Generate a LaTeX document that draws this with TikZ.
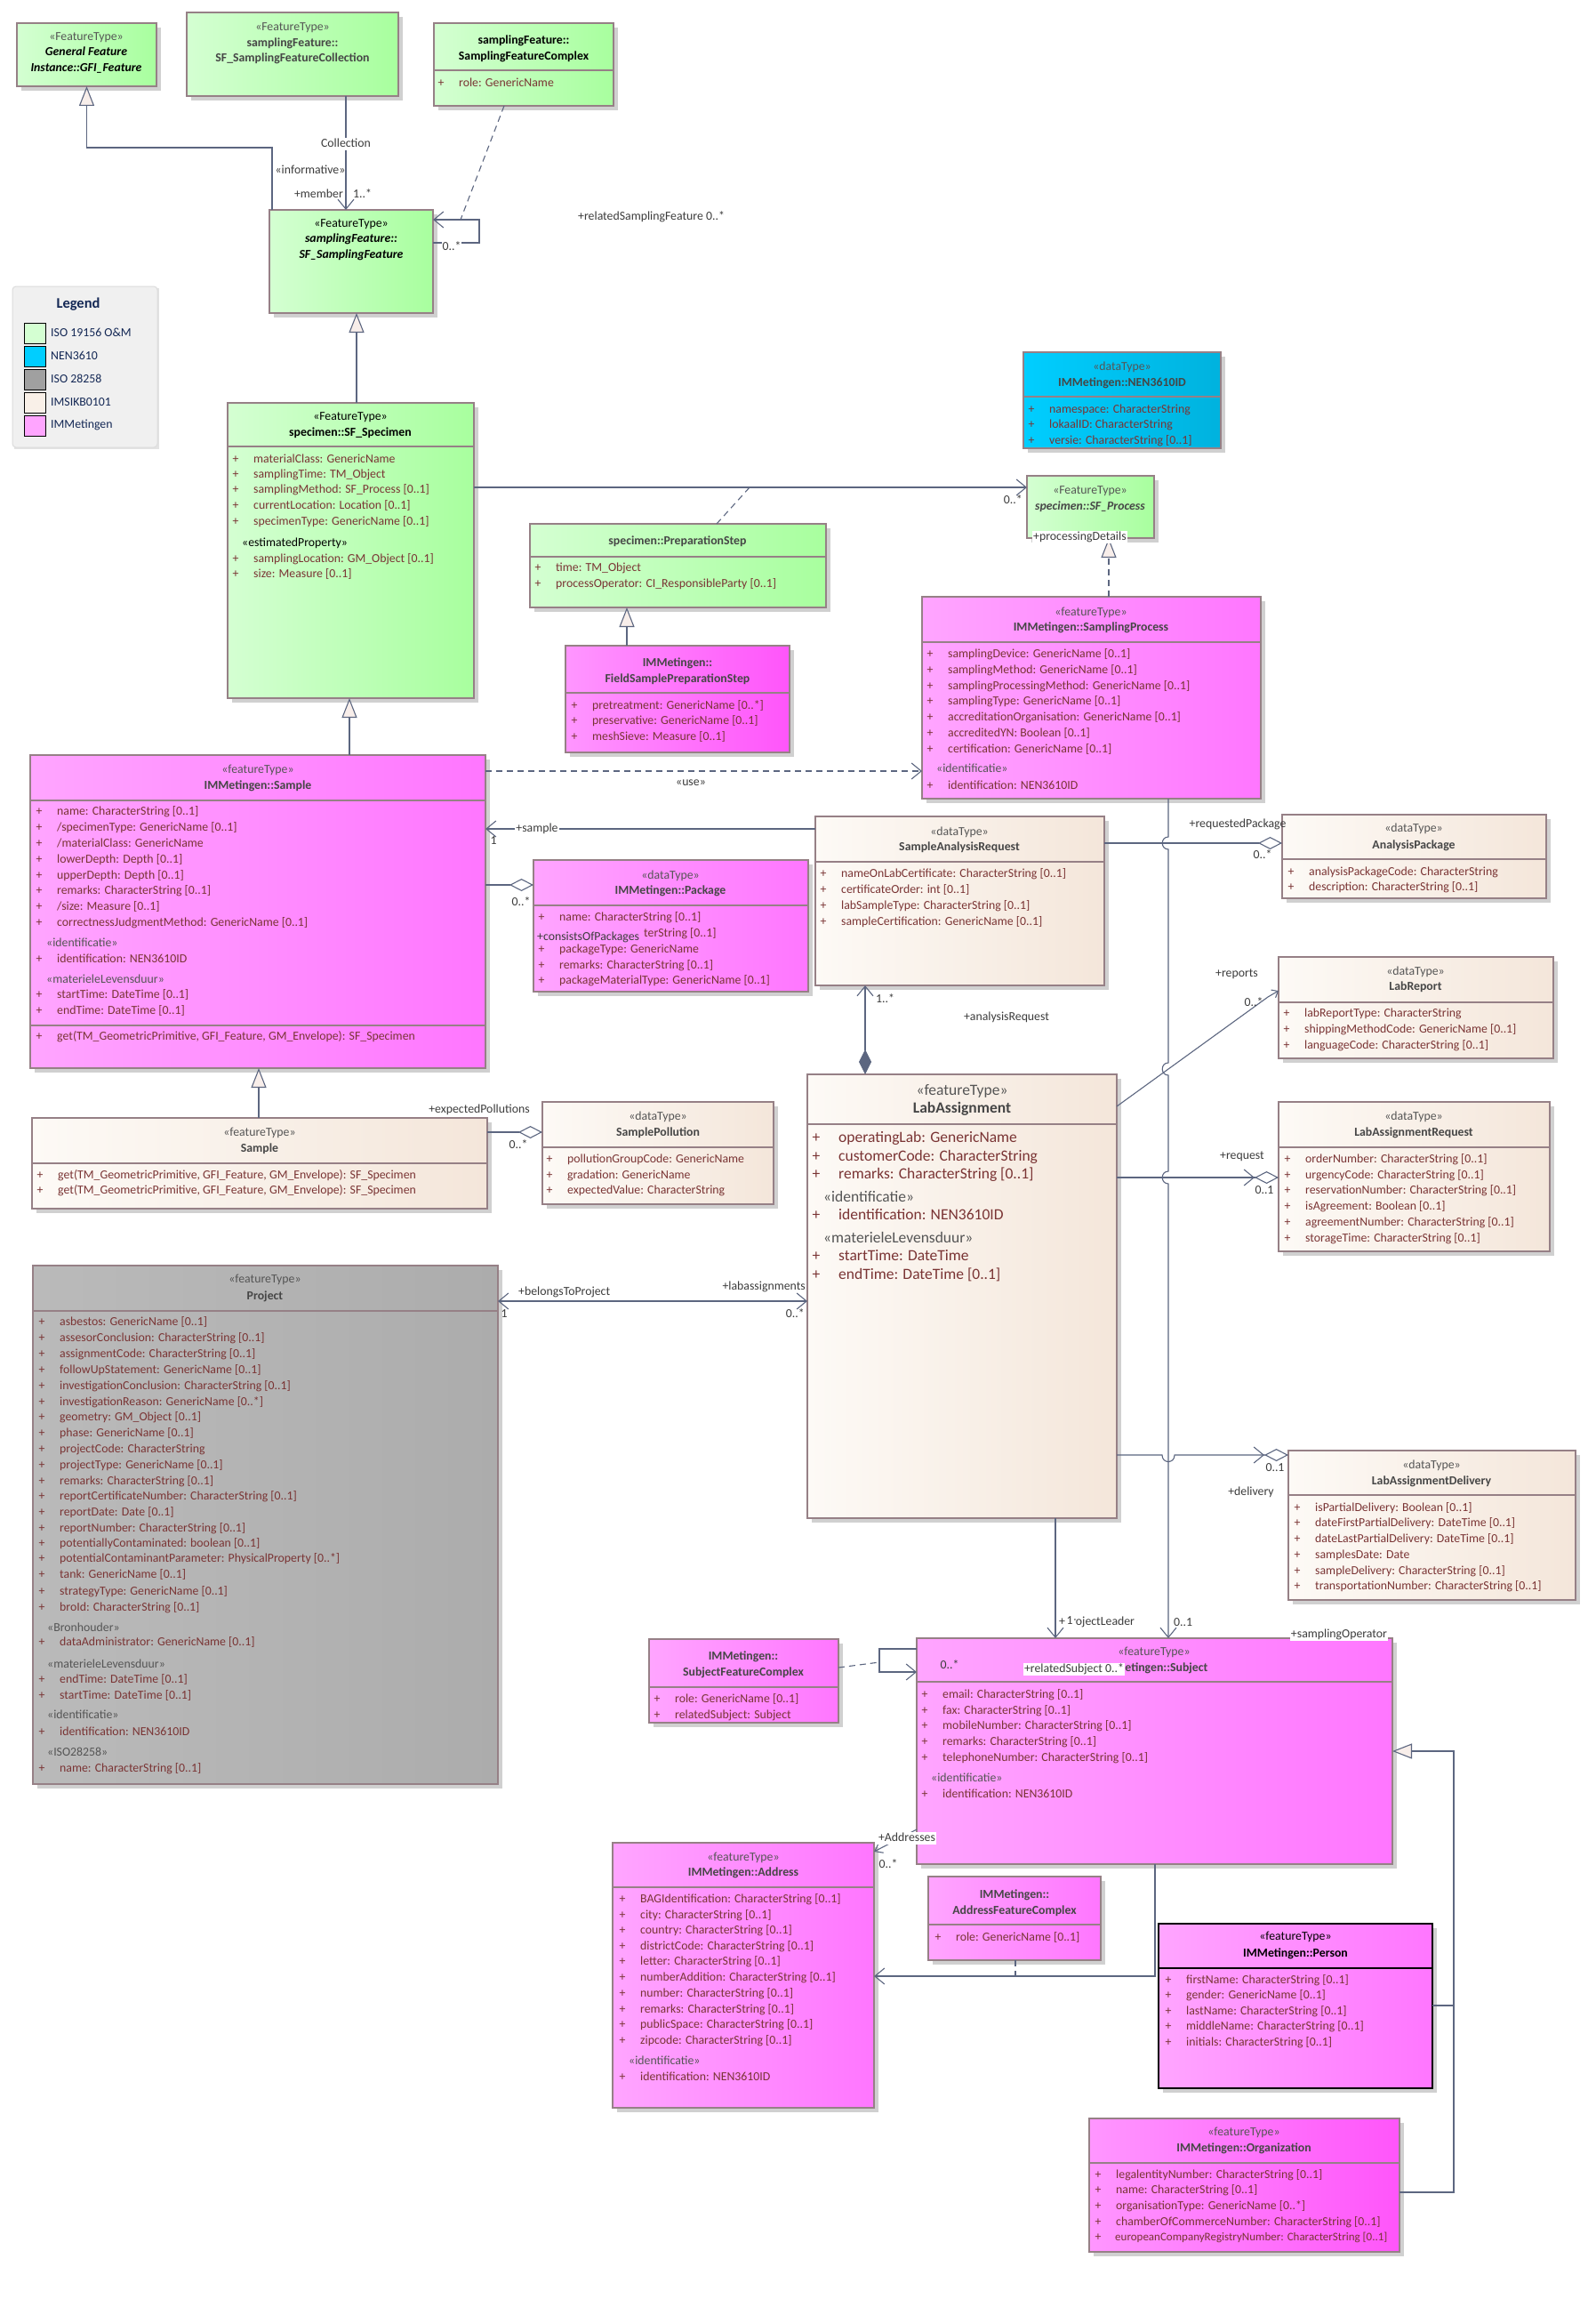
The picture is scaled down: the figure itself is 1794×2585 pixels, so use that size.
\documentclass[tikz,border=0pt]{standalone}
\usepackage{fontspec}
\setmainfont{Carlito}
\usetikzlibrary{arrows.meta}
\definecolor{linec}{RGB}{92,102,128}
\definecolor{bordc}{RGB}{150,128,134}
\definecolor{shadowc}{RGB}{208,208,208}
\definecolor{atc}{RGB}{122,52,52}
\definecolor{stc}{RGB}{85,85,85}
\definecolor{ttc}{RGB}{70,70,70}
\definecolor{labc}{RGB}{60,60,60}
\definecolor{trifill}{RGB}{248,238,234}
\definecolor{gL}{RGB}{212,255,210}
\definecolor{gR}{RGB}{168,255,158}
\definecolor{pL}{RGB}{255,165,255}
\definecolor{pR}{RGB}{255,118,255}
\definecolor{p2L}{RGB}{255,150,255}
\definecolor{p2R}{RGB}{255,85,250}
\definecolor{cL}{RGB}{253,250,246}
\definecolor{cR}{RGB}{244,230,218}
\definecolor{yL}{RGB}{186,186,186}
\definecolor{yR}{RGB}{172,172,172}
\definecolor{bL}{RGB}{0,206,255}
\definecolor{bR}{RGB}{0,178,222}
\definecolor{legc}{RGB}{20,40,85}
\newcommand\fsz{\fontsize{13.8}{16}\selectfont}
\newcommand\fszS{\fontsize{13}{15}\selectfont}
\newcommand\fszL{\fontsize{17.5}{20}\selectfont}
\newcommand\ubox[7]{%
  \fill[shadowc] ({#2+5},{#3+5}) rectangle ({#4+5},{#5+5});
  \path[#7] (#2,#3) rectangle (#4,#5);
  \node[inner sep=0pt, outer sep=0pt, minimum width={#4pt-#2pt}, minimum height={#5pt-#3pt}, anchor=north west] (#1) at (#2,#3) {};
  \draw[boxline] (#2,#3) rectangle (#4,#5);
  \ifx\relax#6\relax\else\draw[boxline] (#2,#6) -- (#4,#6);\fi
}
\newcommand\attr[3]{\node[plx] at (#1,#2) {+}; \node[attx] at ({#1+20},#2) {#3};}
\newcommand\attrL[3]{\node[plx,font=\fszL] at (#1,#2) {+}; \node[attx,font=\fszL] at ({#1+25},#2) {#3};}
\begin{document}
\begin{tikzpicture}[x=1pt,y=-1pt,
  boxline/.style={draw=bordc, line width=1.1pt},
  gbox/.style={left color=gL, right color=gR},
  pbox/.style={left color=pL, right color=pR},
  p2box/.style={left color=p2L, right color=p2R},
  cbox/.style={left color=cL, right color=cR},
  ybox/.style={left color=yL, right color=yR},
  bbox/.style={left color=bL, right color=bR},
  txt/.style={inner sep=0pt, text height=9.5pt, text depth=3pt},
  stx/.style={txt, font=\fsz, text=stc},
  ttx/.style={txt, font=\fsz\bfseries, text=ttc},
  tix/.style={txt, font=\fsz\bfseries\itshape, text=black},
  plx/.style={txt, font=\fsz, text=atc},
  attx/.style={txt, font=\fsz, text=atc, anchor=west},
  ssx/.style={txt, font=\fsz, text=stc, anchor=west},
  lbx/.style={txt, font=\fsz, text=labc},
  wlbx/.style={lbx, fill=white, inner sep=1pt},
  conn/.style={draw=linec, line width=1.1pt},
  dsh/.style={dash pattern=on 7pt off 5pt},
  toBarb/.style={-{Straight Barb[length=11pt,width=18pt]}},
  toTri/.style={-{Triangle[length=22pt,width=17pt,fill=trifill]}},
  toDia/.style={-{Diamond[length=27pt,width=14pt,fill=white]}},
  toBarbDia/.style={-{Straight Barb[length=11pt,width=18pt] Diamond[length=27pt,width=14pt,fill=white]}},
  compBarb/.style={{Diamond[length=28pt,width=14pt]}-{Straight Barb[length=11pt,width=18pt]}},
  bothBarb/.style={{Straight Barb[length=11pt,width=18pt]}-{Straight Barb[length=11pt,width=18pt]}},
]
\fill[white] (0,0) rectangle (1794,2585);
\useasboundingbox (0,0) rectangle (1794,2585);

% ---------------- boxes ----------------
\ubox{gfi}{19}{26}{176}{97}{}{gbox}
\node[stx] at (97,42) {«FeatureType»};
\node[tix] at (97,59) {General Feature};
\node[tix] at (97,77) {Instance::GFI\_Feature};

\ubox{sfcoll}{210}{14}{448}{108}{}{gbox}
\node[stx] at (329,31) {«FeatureType»};
\node[ttx] at (329,49) {samplingFeature::};
\node[ttx] at (329,66) {SF\_SamplingFeatureCollection};

\ubox{sfcomplex}{488}{26}{690}{119}{79}{gbox}
\node[ttx,text=black] at (589,46) {samplingFeature::};
\node[ttx,text=black] at (589,64) {SamplingFeatureComplex};
\attr{496}{94}{role: GenericName}

\ubox{sfsf}{303}{236}{487}{352}{}{gbox}
\node[stx,text=black] at (395,252) {«FeatureType»};
\node[tix] at (395,269) {samplingFeature::};
\node[tix] at (395,287) {SF\_SamplingFeature};

% legend
\fill[shadowc!60] (16,324) rectangle (179,505);
\draw[draw={rgb,255:red,220;green,220;blue,220}, fill={rgb,255:red,240;green,240;blue,240}, rounded corners=4pt, line width=1pt] (14,322) rectangle (177,503);
\node[txt, font=\fontsize{16.5}{18}\selectfont\bfseries, text=legc] (legt) at (88,343) {Legend};
\draw[fill=gL, draw=black, line width=1pt] (27,363) rectangle (51,386);
\draw[fill=bL, draw=black, line width=1pt] (27,389) rectangle (51,412);
\draw[fill={rgb,255:red,160;green,160;blue,160}, draw=black, line width=1pt] (27,415) rectangle (51,438);
\draw[fill=cL!50!cR, draw=black, line width=1pt] (27,441) rectangle (51,464);
\draw[fill=pL, draw=black, line width=1pt] (27,467) rectangle (51,490);
\node[txt, font=\fsz, text=legc, anchor=west] at (57,375) {ISO 19156 O\&M};
\node[txt, font=\fsz, text=legc, anchor=west] at (57,401) {NEN3610};
\node[txt, font=\fsz, text=legc, anchor=west] at (57,427) {ISO 28258};
\node[txt, font=\fsz, text=legc, anchor=west] at (57,453) {IMSIKB0101};
\node[txt, font=\fsz, text=legc, anchor=west] at (57,478) {IMMetingen};

\ubox{spec}{256}{453}{533}{785}{502}{gbox}
\node[stx,text=black] at (394,469) {«FeatureType»};
\node[ttx,text=black] at (394,487) {specimen::SF\_Specimen};
\attr{265}{517}{materialClass: GenericName}
\attr{265}{534}{samplingTime: TM\_Object}
\attr{265}{551}{samplingMethod: SF\_Process [0..1]}
\attr{265}{569}{currentLocation: Location [0..1]}
\attr{265}{587}{specimenType: GenericName [0..1]}
\node[ssx,text=black] at (272,611) {«estimatedProperty»};
\attr{265}{629}{samplingLocation: GM\_Object [0..1]}
\attr{265}{646}{size: Measure [0..1]}

\ubox{nen}{1151}{396}{1373}{504}{446}{bbox}
\node[stx] at (1262,413) {«dataType»};
\node[ttx] at (1262,431) {IMMetingen::NEN3610ID};
\attr{1160}{461}{namespace: CharacterString}
\attr{1160}{478}{lokaalID: CharacterString}
\attr{1160}{496}{versie: CharacterString [0..1]}

\ubox{proc}{1155}{535}{1298}{605}{}{gbox}
\node[stx] at (1226,552) {«FeatureType»};
\node[tix,text=ttc] at (1226,570) {specimen::SF\_Process};

\ubox{prep}{596}{589}{929}{683}{626}{gbox}
\node[ttx] at (762,609) {specimen::PreparationStep};
\attr{605}{639}{time: TM\_Object}
\attr{605}{657}{processOperator: CI\_ResponsibleParty [0..1]}

\ubox{fsp}{636}{726}{888}{846}{779}{p2box}
\node[ttx] at (762,746) {IMMetingen::};
\node[ttx] at (762,764) {FieldSamplePreparationStep};
\attr{646}{794}{pretreatment: GenericName [0..*]}
\attr{646}{811}{preservative: GenericName [0..1]}
\attr{646}{829}{meshSieve: Measure [0..1]}

\ubox{sproc}{1037}{671}{1418}{898}{722}{pbox}
\node[stx] at (1227,689) {«featureType»};
\node[ttx] at (1227,706) {IMMetingen::SamplingProcess};
\attr{1046}{736}{samplingDevice: GenericName [0..1]}
\attr{1046}{754}{samplingMethod: GenericName [0..1]}
\attr{1046}{772}{samplingProcessingMethod: GenericName [0..1]}
\attr{1046}{789}{samplingType: GenericName [0..1]}
\attr{1046}{807}{accreditationOrganisation: GenericName [0..1]}
\attr{1046}{825}{accreditedYN: Boolean [0..1]}
\attr{1046}{843}{certification: GenericName [0..1]}
\node[ssx] at (1053,865) {«identificatie»};
\attr{1046}{884}{identification: NEN3610ID}

\ubox{sample}{34}{849}{546}{1201}{900}{pbox}
\draw[boxline] (34,1153) -- (546,1153);
\node[stx] at (290,866) {«featureType»};
\node[ttx] at (290,884) {IMMetingen::Sample};
\attr{44}{913}{name: CharacterString [0..1]}
\attr{44}{931}{/specimenType: GenericName [0..1]}
\attr{44}{949}{/materialClass: GenericName}
\attr{44}{967}{lowerDepth: Depth [0..1]}
\attr{44}{985}{upperDepth: Depth [0..1]}
\attr{44}{1002}{remarks: CharacterString [0..1]}
\attr{44}{1020}{/size: Measure [0..1]}
\attr{44}{1038}{correctnessJudgmentMethod: GenericName [0..1]}
\node[ssx] at (52,1061) {«identificatie»};
\attr{44}{1079}{identification: NEN3610ID}
\node[ssx] at (52,1102) {«materieleLevensduur»};
\attr{44}{1119}{startTime: DateTime [0..1]}
\attr{44}{1137}{endTime: DateTime [0..1]}
\attr{44}{1166}{get(TM\_GeometricPrimitive, GFI\_Feature, GM\_Envelope): SF\_Specimen}

\ubox{pkg}{600}{967}{909}{1115}{1018}{pbox}
\node[stx] at (754,985) {«dataType»};
\node[ttx] at (754,1002) {IMMetingen::Package};
\attr{609}{1032}{name: CharacterString [0..1]}
\node[attx] at (724,1050) {terString [0..1]};
\attr{609}{1068}{packageType: GenericName}
\attr{609}{1086}{remarks: CharacterString [0..1]}
\attr{609}{1103}{packageMaterialType: GenericName [0..1]}

\ubox{sar}{917}{918}{1242}{1108}{969}{cbox}
\node[stx] at (1079,936) {«dataType»};
\node[ttx] at (1079,953) {SampleAnalysisRequest};
\attr{926}{983}{nameOnLabCertificate: CharacterString [0..1]}
\attr{926}{1001}{certificateOrder: int [0..1]}
\attr{926}{1019}{labSampleType: CharacterString [0..1]}
\attr{926}{1037}{sampleCertification: GenericName [0..1]}

\ubox{ap}{1442}{916}{1739}{1010}{966}{cbox}
\node[stx] at (1590,932) {«dataType»};
\node[ttx] at (1590,951) {AnalysisPackage};
\attr{1452}{981}{analysisPackageCode: CharacterString}
\attr{1452}{998}{description: CharacterString [0..1]}

\ubox{lr}{1438}{1076}{1747}{1190}{1127}{cbox}
\node[stx] at (1592,1093) {«dataType»};
\node[ttx] at (1592,1110) {LabReport};
\attr{1447}{1140}{labReportType: CharacterString}
\attr{1447}{1158}{shippingMethodCode: GenericName [0..1]}
\attr{1447}{1176}{languageCode: CharacterString [0..1]}

\ubox{la}{908}{1208}{1256}{1707}{1264}{cbox}
\node[stx,font=\fszL] at (1082,1228) {«featureType»};
\node[ttx,font=\fszL\bfseries] at (1082,1248) {LabAssignment};
\attrL{918}{1281}{operatingLab: GenericName}
\attrL{918}{1302}{customerCode: CharacterString}
\attrL{918}{1322}{remarks: CharacterString [0..1]}
\node[ssx,font=\fszL] at (926,1348) {«identificatie»};
\attrL{918}{1368}{identification: NEN3610ID}
\node[ssx,font=\fszL] at (926,1394) {«materieleLevensduur»};
\attrL{918}{1414}{startTime: DateTime}
\attrL{918}{1435}{endTime: DateTime [0..1]}

\ubox{lar}{1438}{1239}{1743}{1407}{1290}{cbox}
\node[stx] at (1590,1256) {«dataType»};
\node[ttx] at (1590,1274) {LabAssignmentRequest};
\attr{1448}{1304}{orderNumber: CharacterString [0..1]}
\attr{1448}{1322}{urgencyCode: CharacterString [0..1]}
\attr{1448}{1339}{reservationNumber: CharacterString [0..1]}
\attr{1448}{1357}{isAgreement: Boolean [0..1]}
\attr{1448}{1375}{agreementNumber: CharacterString [0..1]}
\attr{1448}{1393}{storageTime: CharacterString [0..1]}

\ubox{samp2}{36}{1257}{548}{1359}{1308}{cbox}
\node[stx] at (292,1274) {«featureType»};
\node[ttx] at (292,1292) {Sample};
\attr{45}{1322}{get(TM\_GeometricPrimitive, GFI\_Feature, GM\_Envelope): SF\_Specimen}
\attr{45}{1339}{get(TM\_GeometricPrimitive, GFI\_Feature, GM\_Envelope): SF\_Specimen}

\ubox{spoll}{610}{1239}{870}{1354}{1290}{cbox}
\node[stx] at (740,1256) {«dataType»};
\node[ttx] at (740,1274) {SamplePollution};
\attr{618}{1304}{pollutionGroupCode: GenericName}
\attr{618}{1322}{gradation: GenericName}
\attr{618}{1339}{expectedValue: CharacterString}

\ubox{project}{37}{1423}{560}{2006}{1474}{ybox}
\node[stx] at (298,1439) {«featureType»};
\node[ttx] at (298,1458) {Project};
\attr{47}{1487}{asbestos: GenericName [0..1]}
\attr{47}{1505}{assesorConclusion: CharacterString [0..1]}
\attr{47}{1523}{assignmentCode: CharacterString [0..1]}
\attr{47}{1541}{followUpStatement: GenericName [0..1]}
\attr{47}{1559}{investigationConclusion: CharacterString [0..1]}
\attr{47}{1577}{investigationReason: GenericName [0..*]}
\attr{47}{1594}{geometry: GM\_Object [0..1]}
\attr{47}{1612}{phase: GenericName [0..1]}
\attr{47}{1630}{projectCode: CharacterString}
\attr{47}{1648}{projectType: GenericName [0..1]}
\attr{47}{1666}{remarks: CharacterString [0..1]}
\attr{47}{1683}{reportCertificateNumber: CharacterString [0..1]}
\attr{47}{1701}{reportDate: Date [0..1]}
\attr{47}{1719}{reportNumber: CharacterString [0..1]}
\attr{47}{1736}{potentiallyContaminated: boolean [0..1]}
\attr{47}{1753}{potentialContaminantParameter: PhysicalProperty [0..*]}
\attr{47}{1771}{tank: GenericName [0..1]}
\attr{47}{1790}{strategyType: GenericName [0..1]}
\attr{47}{1808}{broId: CharacterString [0..1]}
\node[ssx] at (53,1831) {«Bronhouder»};
\attr{47}{1847}{dataAdministrator: GenericName [0..1]}
\node[ssx] at (53,1872) {«materieleLevensduur»};
\attr{47}{1889}{endTime: DateTime [0..1]}
\attr{47}{1907}{startTime: DateTime [0..1]}
\node[ssx] at (53,1929) {«identificatie»};
\attr{47}{1948}{identification: NEN3610ID}
\node[ssx] at (53,1971) {«ISO28258»};
\attr{47}{1989}{name: CharacterString [0..1]}

\ubox{lad}{1449}{1631}{1772}{1799}{1681}{cbox}
\node[stx] at (1610,1648) {«dataType»};
\node[ttx] at (1610,1666) {LabAssignmentDelivery};
\attr{1459}{1696}{isPartialDelivery: Boolean [0..1]}
\attr{1459}{1713}{dateFirstPartialDelivery: DateTime [0..1]}
\attr{1459}{1731}{dateLastPartialDelivery: DateTime [0..1]}
\attr{1459}{1749}{samplesDate: Date}
\attr{1459}{1767}{sampleDelivery: CharacterString [0..1]}
\attr{1459}{1784}{transportationNumber: CharacterString [0..1]}

\ubox{subj}{1031}{1842}{1566}{2096}{1891}{pbox}
\node[stx] at (1298,1858) {«featureType»};
\node[ttx] at (1298,1876) {IMMetingen::Subject};
\attr{1040}{1906}{email: CharacterString [0..1]}
\attr{1040}{1924}{fax: CharacterString [0..1]}
\attr{1040}{1941}{mobileNumber: CharacterString [0..1]}
\attr{1040}{1959}{remarks: CharacterString [0..1]}
\attr{1040}{1977}{telephoneNumber: CharacterString [0..1]}
\node[ssx] at (1047,2000) {«identificatie»};
\attr{1040}{2018}{identification: NEN3610ID}

\ubox{sfc}{730}{1843}{943}{1937}{1897}{pbox}
\node[ttx] at (836,1863) {IMMetingen::};
\node[ttx] at (836,1881) {SubjectFeatureComplex};
\attr{739}{1911}{role: GenericName [0..1]}
\attr{739}{1929}{relatedSubject: Subject}

\ubox{addr}{689}{2072}{983}{2370}{2122}{pbox}
\node[stx] at (836,2089) {«featureType»};
\node[ttx] at (836,2106) {IMMetingen::Address};
\attr{700}{2136}{BAGIdentification: CharacterString [0..1]}
\attr{700}{2154}{city: CharacterString [0..1]}
\attr{700}{2171}{country: CharacterString [0..1]}
\attr{700}{2189}{districtCode: CharacterString [0..1]}
\attr{700}{2206}{letter: CharacterString [0..1]}
\attr{700}{2224}{numberAddition: CharacterString [0..1]}
\attr{700}{2242}{number: CharacterString [0..1]}
\attr{700}{2260}{remarks: CharacterString [0..1]}
\attr{700}{2277}{publicSpace: CharacterString [0..1]}
\attr{700}{2295}{zipcode: CharacterString [0..1]}
\node[ssx] at (707,2318) {«identificatie»};
\attr{700}{2336}{identification: NEN3610ID}

\ubox{afc}{1044}{2110}{1238}{2204}{2164}{pbox}
\node[ttx] at (1141,2131) {IMMetingen::};
\node[ttx] at (1141,2149) {AddressFeatureComplex};
\attr{1055}{2179}{role: GenericName [0..1]}

\ubox{person}{1303}{2163}{1611}{2348}{2213}{pbox}
\draw[black, line width=2pt] (1303,2163) rectangle (1611,2348);
\draw[black, line width=2pt] (1303,2213) -- (1611,2213);
\node[stx,text=black] at (1457,2178) {«featureType»};
\node[ttx,text=black] at (1457,2197) {IMMetingen::Person};
\attr{1314}{2227}{firstName: CharacterString [0..1]}
\attr{1314}{2244}{gender: GenericName [0..1]}
\attr{1314}{2262}{lastName: CharacterString [0..1]}
\attr{1314}{2279}{middleName: CharacterString [0..1]}
\attr{1314}{2297}{initials: CharacterString [0..1]}

\ubox{org}{1225}{2382}{1574}{2532}{2432}{p2box}
\node[stx] at (1399,2398) {«featureType»};
\node[ttx] at (1399,2416) {IMMetingen::Organization};
\attr{1235}{2446}{legalentityNumber: CharacterString [0..1]}
\attr{1235}{2463}{name: CharacterString [0..1]}
\attr{1235}{2481}{organisationType: GenericName [0..*]}
\attr{1235}{2499}{chamberOfCommerceNumber: CharacterString [0..1]}
\node[plx] at (1235,2516) {+};
\node[attx,font=\fszS] at (1254,2516) {europeanCompanyRegistryNumber: CharacterString [0..1]};

% ---------------- connectors ----------------
\draw[conn,toTri] ([xshift=3pt]sfsf.north west) -- ++(0,-70) -| (gfi.south);
\draw[conn,toBarb] (sfcoll.south -| 389,0) -- (sfsf.north -| 389,0);
\coordinate (selfa) at (518,247);
\draw[conn,dsh] (sfcomplex.south -| 567,0) -- (selfa);
\draw[conn,toBarb] (sfsf.east |- 0,273) -- (539,273) -- (539,247) -- (sfsf.east |- 0,247);
\draw[conn,toTri] (spec.north -| 401,0) -- (sfsf.south -| 401,0);
\draw[conn,toBarb] (spec.east |- 0,548) -- (proc.west |- 0,548);
\coordinate (prepj) at (843,548);
\draw[conn,dsh] (prep.north -| 806,0) -- (prepj);
\draw[conn,toTri] (fsp.north -| 705,0) -- (prep.south -| 705,0);
\draw[conn,dsh,toTri] (sproc.north -| 1247,0) -- (proc.south -| 1247,0);
\draw[conn,toTri] (sample.north -| 393,0) -- (spec.south -| 393,0);
\draw[conn,dsh,toBarb] (sample.east |- 0,867) -- (sproc.west |- 0,867);
\draw[conn,toBarb] (sar.west |- 0,932) -- (sample.east |- 0,932);
\draw[conn,toDia] (sample.east |- 0,995) -- (pkg.west |- 0,995);
\draw[conn,toDia] (sar.east |- 0,948) -- (ap.west |- 0,948);
\draw[conn,compBarb] (la.north -| 973,0) -- (sar.south -| 973,0);
\draw[conn,-{Straight Barb[length=6pt,width=10pt]}] (la.east |- 0,1244) -- (1426,1121) -- (lr.west |- 0,1114);
\draw[conn,toBarbDia] (la.east |- 0,1324) -- (lar.west |- 0,1324);
\draw[conn,toBarbDia] (la.east |- 0,1636) -- (1307,1636) .. controls (1307,1646) and (1321,1646) .. (1321,1636) -- (lad.west |- 0,1636);
\draw[conn,toBarb] (sproc.south -| 1314,0) -- (1314,941) .. controls (1305,941) and (1305,955) .. (1314,955)
   -- (1314,1195) .. controls (1305,1195) and (1305,1209) .. (1314,1209)
   -- (1314,1317) .. controls (1305,1317) and (1305,1331) .. (1314,1331)
   -- (subj.north -| 1314,0);
\draw[conn,toBarb] (la.south -| 1187,0) -- (subj.north -| 1187,0);
\draw[conn,bothBarb] (project.east |- 0,1463) -- (la.west |- 0,1463);
\draw[conn,toTri] (samp2.north -| 291,0) -- (sample.south -| 291,0);
\draw[conn,toDia] (samp2.east |- 0,1273) -- (spoll.west |- 0,1273);
\coordinate (loopa) at (989,1869);
\draw[conn,toBarb] (subj.west |- 0,1854) -- (989,1854) -- (989,1880) -- (subj.west |- 0,1880);
\draw[conn,dsh] (sfc.east |- 0,1875) -- (loopa);
\draw[conn,-{Straight Barb[length=8pt,width=12pt]}] (subj.west |- 0,2057) -- (addr.east |- 0,2082);
\coordinate (addrj) at (1142,2222);
\draw[conn,toBarb] (subj.south -| 1299,0) |- (addr.east |- 0,2222);
\draw[conn,dsh] (afc.south -| 1142,0) -- (addrj);
\draw[conn,toTri] (org.east |- 0,2465) -| (1635,1969) -- (subj.east |- 0,1969);
\draw[conn] (person.east |- 0,2255) -- (1635,2255);

% ---------------- connector labels ----------------
\node[wlbx] at (389,162) {Collection};
\node[lbx] at (349,192) {«informative»};
\node[lbx,anchor=east] at (386,219) {+member};
\node[lbx,anchor=west] at (397,219) {1..*};
\node[wlbx] at (508,278) {0..*};
\node[lbx,anchor=west] at (650,244) {+relatedSamplingFeature 0..*};
\node[lbx,anchor=east] at (1150,563) {0..*};
\node[wlbx,anchor=west] at (1161,604) {+processingDetails};
\node[lbx] at (777,880) {«use»};
\node[wlbx] at (604,932) {+sample};
\node[lbx] at (555,946) {1};
\node[lbx] at (586,1015) {0..*};
\node[lbx,anchor=west] at (604,1054) {+consistsOfPackages};
\node[lbx] at (1392,927) {+requestedPackage};
\node[lbx] at (1420,962) {0..*};
\node[lbx,anchor=west] at (985,1124) {1..*};
\node[lbx] at (1132,1144) {+analysisRequest};
\node[lbx] at (1391,1095) {+reports};
\node[lbx] at (1410,1128) {0..*};
\node[lbx] at (1397,1300) {+request};
\node[lbx] at (1422,1339) {0..1};
\node[lbx] at (1434,1651) {0..1};
\node[lbx] at (1407,1678) {+delivery};
\node[lbx] at (539,1248) {+expectedPollutions};
\node[lbx] at (583,1288) {0..*};
\node[lbx,anchor=west] at (583,1453) {+belongsToProject};
\node[lbx] at (567,1478) {1};
\node[lbx,anchor=east] at (906,1447) {+labassignments};
\node[lbx,anchor=east] at (905,1478) {0..*};
\node[lbx,anchor=west] at (1191,1824) {+projectLeader};
\node[lbx,fill=white,inner sep=0.5pt,minimum width=10pt] at (1203,1823) {1};
\node[lbx,anchor=west] at (1320,1825) {0..1};
\node[wlbx] at (1506,1838) {+samplingOperator};
\node[lbx] at (1068,1873) {0..*};
\node[wlbx] at (1208,1877) {+relatedSubject 0..*};
\node[wlbx] at (1020,2067) {+Addresses};
\node[lbx] at (999,2097) {0..*};
\end{tikzpicture}
\end{document}
